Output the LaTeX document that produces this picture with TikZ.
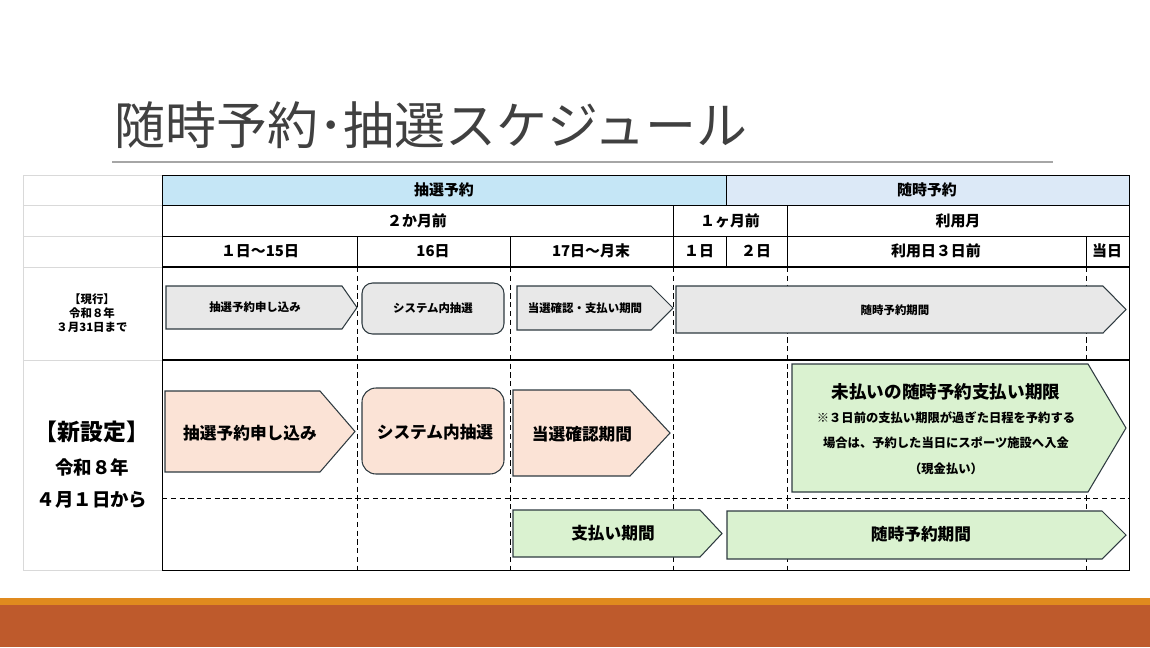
\documentclass[tikz,border=0pt]{standalone}
\usepackage{fontspec}
\setmainfont{Noto Sans CJK JP}
\usetikzlibrary{positioning}
\definecolor{lotblue}{HTML}{C5E6F6}
\definecolor{anyblue}{HTML}{DCE9F7}
\definecolor{oldgrey}{HTML}{E8E8E8}
\definecolor{newpeach}{HTML}{FBE3D6}
\definecolor{newgreen}{HTML}{DAF2D0}
\definecolor{edgecol}{HTML}{2E3A40}
\definecolor{bandorange}{HTML}{E08A1E}
\definecolor{bandbrown}{HTML}{BE5A2C}
\newcommand{\tagarrow}[6]{\draw[shapeline,fill=#6] (#1,#4) -- (#3,#4) -- (#2,{(#4+#5)/2}) -- (#3,#5) -- (#1,#5) -- cycle;}
\tikzset{
  shapeline/.style={draw=edgecol,line width=0.6pt},
  headtxt/.style={font=\fontsize{8.5}{10}\selectfont\bfseries},
  smalltxt/.style={font=\fontsize{6.5}{8}\selectfont\bfseries},
  bigtxt/.style={font=\fontsize{9.5}{11}\selectfont\bfseries},
  cellline/.style={line width=0.5pt},
  dashline/.style={densely dashed,line width=0.4pt}
}
\begin{document}
\begin{tikzpicture}[x=0.02cm,y=-0.02cm]
\useasboundingbox (0,0) rectangle (1150,647);
% title
\node[anchor=west,font=\fontsize{29}{32}\selectfont,text=black!75] (title) at (108,125) {随時予約･抽選スケジュール};
\draw[black!35,line width=1pt] (112,162) -- (1053,162);
% header fills
\fill[lotblue] (162,175) rectangle (726,205);
\fill[anyblue] (726,175) rectangle (1129,205);
% left column grid
\draw[black!15,cellline] (23,175) rectangle (162,570);
\foreach \y in {205,236,267,360} \draw[black!15,cellline] (23,\y) -- (162,\y);
% header grid
\draw[cellline] (162,175) rectangle (1129,570);
\foreach \y in {205,236} \draw[cellline] (162,\y) -- (1129,\y);
\draw[line width=1.2pt] (162,267) -- (1129,267);
\draw[line width=1pt] (162,360) -- (1129,360);
\draw[cellline] (726,175) -- (726,205);
\draw[cellline] (673,205) -- (673,267);
\draw[cellline] (787,205) -- (787,267);
\foreach \x in {357,510,726,1086} \draw[cellline] (\x,236) -- (\x,267);
\foreach \x in {357,510,673,787,1086} \draw[dashline] (\x,267) -- (\x,570);
\draw[dashline] (162,498) -- (1129,498);
% header texts
\node[headtxt] (lot) at (444,190) {抽選予約};
\node[headtxt] (any) at (927,190) {随時予約};
\node[headtxt] (m2) at (417,221) {２か月前};
\node[headtxt] (m1) at (730,221) {１ヶ月前};
\node[headtxt] (mu) at (958,221) {利用月};
\node[headtxt] (d1) at (260,251) {１日～15日};
\node[headtxt] (d16) at (433,251) {16日};
\node[headtxt] (d17) at (591,251) {17日～月末};
\node[headtxt] (dm1) at (699,251) {１日};
\node[headtxt] (dm2) at (756,251) {２日};
\node[headtxt] (d3) at (936,251) {利用日３日前};
\node[headtxt] (dday) at (1107,251) {当日};
% row labels
\node[smalltxt,align=center] (oldlab) at (92,313) {【現行】\\令和８年\\３月31日まで};
\node[font=\fontsize{13}{15}\selectfont\bfseries] (newlab) at (92,432) {【新設定】};
\node[bigtxt,font=\fontsize{10.5}{12}\selectfont\bfseries] (newy) at (92,467) {令和８年};
\node[font=\fontsize{10.5}{12}\selectfont\bfseries] (newd) at (92,500) {４月１日から};
% current row
\tagarrow{166}{357}{342}{286}{329}{oldgrey}
\draw[shapeline,fill=oldgrey,rounded corners=6pt] (362,283) rectangle (504,334);
\tagarrow{517}{673}{651}{286}{330}{oldgrey}
\tagarrow{676}{1126}{1103}{286}{333}{oldgrey}
\node[smalltxt] (o1) at (255,307) {抽選予約申し込み};
\node[smalltxt] (o2) at (433,308) {システム内抽選};
\node[smalltxt] (o3) at (585,308) {当選確認・支払い期間};
\node[smalltxt] (o4) at (895,310) {随時予約期間};
% new row
\tagarrow{165}{355}{320}{391}{472}{newpeach}
\draw[shapeline,fill=newpeach,rounded corners=8pt] (362,388) rectangle (504,474);
\tagarrow{513}{670}{630}{390}{476}{newpeach}
\tagarrow{792}{1126}{1088}{364}{492}{newgreen}
\tagarrow{513}{722}{700}{510}{557}{newgreen}
\tagarrow{727}{1126}{1102}{511}{559}{newgreen}
\node[bigtxt] (n1) at (250,433) {抽選予約申し込み};
\node[bigtxt] (n2) at (435,432) {システム内抽選};
\node[bigtxt] (n3) at (582,434) {当選確認期間};
\node[font=\fontsize{10}{12}\selectfont\bfseries] (g1) at (946,392) {未払いの随時予約支払い期限};
\node[smalltxt,align=center,font=\fontsize{7}{14.5}\selectfont\bfseries] (g2) at (946,443) {※３日前の支払い期限が過ぎた日程を予約する\\場合は、予約した当日にスポーツ施設へ入金\\（現金払い）};
\node[bigtxt] (n4) at (613,533) {支払い期間};
\node[bigtxt] (n5) at (921,534) {随時予約期間};
% bottom bands
\fill[bandorange] (0,598) rectangle (1150,605);
\fill[bandbrown] (0,605) rectangle (1150,647);
\end{tikzpicture}
\end{document}
